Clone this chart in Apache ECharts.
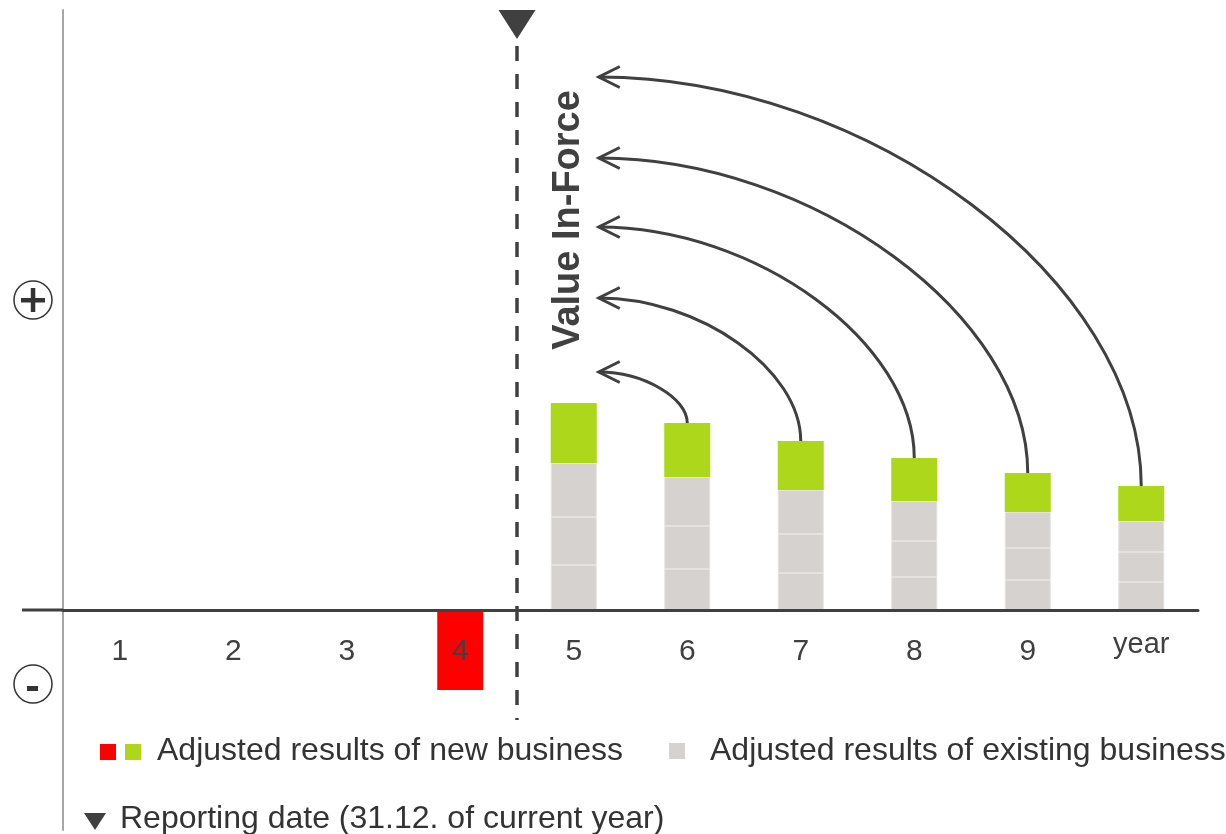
<!DOCTYPE html>
<html>
<head>
<meta charset="utf-8">
<script src="https://cdn.jsdelivr.net/npm/echarts@6/dist/echarts.min.js"></script>
<style>
  html, body { margin: 0; padding: 0; background: #ffffff; }
  #chart { width: 1226px; height: 834px; }
</style>
</head>
<body>
<div id="chart"></div>
<script>
// Periods on the horizontal axis
const categories = ['1', '2', '3', '4', '5', '6', '7', '8', '9', 'year'];

// Adjusted results of new business (negative = strain in the year of writing)
const newBusiness = [null, null, null, -80, 60, 54, 49, 43, 39, 35];

// Adjusted results of existing business, drawn as three stacked layers
const existingLayer1 = [null, null, null, null, 45, 41, 37, 33, 30, 28];
const existingLayer2 = [null, null, null, null, 48, 43, 39, 36, 32, 30];
const existingLayer3 = [null, null, null, null, 54, 49, 44, 40, 36, 31];

// Level each future result is discounted back to (Value In-Force)
const valueInForce = [null, null, null, null, null, 238, 312, 383, 452, 533];

// Reporting date sits between these two periods
const reportingBetween = [3, 4];

const FONT = '"Liberation Sans", Arial, Helvetica, sans-serif';
const DARK = '#404040';
const GREEN = '#add71b';
const RED = '#ff0000';
const GREY = '#d6d2cf';
const Y_MIN = -220, Y_MAX = 600;
const BAR_W = 46;
const GRID = { left: 63, right: 28, top: 10, bottom: 4 };
const CHART_H = 834;

// the category axis (line + labels) sits on the zero line of the value axis
const gridHeight = CHART_H - GRID.top - GRID.bottom;
const zeroOffset = -gridHeight * (0 - Y_MIN) / (Y_MAX - Y_MIN);

const chart = echarts.init(document.getElementById('chart'), null, { renderer: 'canvas' });

const greyStyle = { color: GREY, borderColor: '#e5e2df', borderWidth: 1 };

function layerSeries(name, values) {
  return {
    name: name,
    type: 'bar',
    stack: 'total',
    barWidth: BAR_W,
    itemStyle: greyStyle,
    data: values,
    silent: true
  };
}

const newBusinessData = newBusiness.map(v =>
  v == null ? null : { value: v, itemStyle: { color: v < 0 ? RED : GREEN } }
);

// total height of each column, where the Value In-Force arrows start
const columnTops = categories.map((c, i) =>
  (existingLayer1[i] || 0) + (existingLayer2[i] || 0) + (existingLayer3[i] || 0) + Math.max(newBusiness[i] || 0, 0)
);

const arrowData = [];
valueInForce.forEach((lvl, i) => {
  if (lvl != null) arrowData.push([i, columnTops[i], lvl]);
});

function renderArrow(params, api) {
  const idx = api.value(0);
  const start = api.coord([idx, api.value(1)]);
  const level = api.coord([idx, api.value(2)]);
  const firstFuture = api.coord([reportingBetween[1], 0]);
  const tipX = firstFuture[0] + BAR_W / 2 + 2;
  const x0 = start[0], y0 = start[1];
  const yT = level[1];
  const k = 0.5;
  const style = { stroke: DARK, lineWidth: 3, fill: null, lineCap: 'butt', lineJoin: 'miter' };
  return {
    type: 'group',
    children: [
      {
        type: 'bezierCurve',
        shape: {
          x1: x0, y1: y0,
          cpx1: x0, cpy1: y0 - k * (y0 - yT),
          cpx2: tipX + k * (x0 - tipX), cpy2: yT,
          x2: tipX, y2: yT
        },
        style: style
      },
      {
        type: 'polyline',
        shape: { points: [[tipX + 21, yT - 10.5], [tipX, yT], [tipX + 21, yT + 10.5]] },
        style: style
      }
    ]
  };
}

function renderReporting(params, api) {
  const a = api.coord([reportingBetween[0], 0]);
  const b = api.coord([reportingBetween[1], 0]);
  const x = (a[0] + b[0]) / 2;
  const top = api.coord([reportingBetween[0], Y_MAX])[1];
  const lineTop = api.coord([reportingBetween[0], 564])[1];
  const lineBottom = api.coord([reportingBetween[0], -110])[1];
  const zeroY = a[1];
  const gridLeft = params.coordSys.x;
  return {
    type: 'group',
    children: [
      {
        type: 'line',
        shape: { x1: x, y1: lineTop, x2: x, y2: lineBottom },
        style: { stroke: DARK, lineWidth: 3.5, lineDash: [15, 13] }
      },
      {
        type: 'polygon',
        shape: { points: [[x - 18.5, top], [x + 18.5, top], [x, top + 29]] },
        style: { fill: DARK }
      },
      {
        // axis line continues a little to the left of the vertical axis
        type: 'line',
        shape: { x1: gridLeft - 41, y1: zeroY, x2: gridLeft, y2: zeroY },
        style: { stroke: DARK, lineWidth: 3 }
      }
    ]
  };
}

const option = {
  backgroundColor: '#ffffff',
  animation: false,
  textStyle: { fontFamily: FONT },
  grid: Object.assign({ containLabel: false, outerBoundsMode: 'none' }, GRID),
  xAxis: {
    type: 'category',
    data: categories,
    position: 'bottom',
    offset: zeroOffset,
    z: 5,
    axisTick: { show: false },
    axisLine: { show: true, onZero: false, lineStyle: { color: DARK, width: 3 } },
    axisLabel: {
      interval: 0,
      hideOverlap: false,
      margin: 20,
      color: DARK,
      fontSize: 30,
      fontFamily: FONT,
      formatter: v => v === 'year' ? '{y|' + v + '}' : '{d|' + v + '}',
      rich: {
        d: { fontSize: 30, fontFamily: FONT, color: DARK, padding: [7, 0, 0, 0] },
        y: { fontSize: 29, fontFamily: FONT, color: DARK, padding: [0, 0, 0, 0] }
      }
    },
    splitLine: { show: false }
  },
  yAxis: {
    type: 'value',
    min: Y_MIN,
    max: Y_MAX,
    axisLine: { show: true, onZero: false, lineStyle: { color: '#a6a6a6', width: 2 } },
    axisTick: { show: false },
    axisLabel: { show: false },
    splitLine: { show: false }
  },
  series: [
    layerSeries('Adjusted results of existing business', existingLayer1),
    layerSeries('Adjusted results of existing business', existingLayer2),
    layerSeries('Adjusted results of existing business', existingLayer3),
    {
      name: 'Adjusted results of new business',
      type: 'bar',
      stack: 'total',
      barWidth: BAR_W,
      data: newBusinessData,
      silent: true
    },
    {
      name: 'Value In-Force',
      type: 'custom',
      renderItem: renderArrow,
      data: arrowData,
      encode: { x: 0, y: 1 },
      z: 4,
      silent: true
    },
    {
      name: 'Reporting date',
      type: 'custom',
      renderItem: renderReporting,
      data: [[reportingBetween[0], 0]],
      encode: { x: 0, y: 1 },
      z: 6,
      silent: true
    }
  ],
  graphic: [
    // plus / minus markers on the value axis
    { type: 'circle', shape: { cx: 33, cy: 300, r: 19 }, style: { fill: null, stroke: '#333333', lineWidth: 1.5 } },
    { type: 'rect', shape: { x: 21, y: 298, width: 24, height: 4.5 }, style: { fill: '#333333' } },
    { type: 'rect', shape: { x: 30.8, y: 288, width: 4.5, height: 24 }, style: { fill: '#333333' } },
    { type: 'circle', shape: { cx: 33, cy: 684, r: 19 }, style: { fill: null, stroke: '#333333', lineWidth: 1.5 } },
    { type: 'rect', shape: { x: 27, y: 686, width: 11, height: 5 }, style: { fill: '#333333' } },
    // vertical caption
    {
      type: 'text', x: 569, y: 220, rotation: Math.PI / 2,
      style: { text: 'Value In-Force', font: 'bold 38px ' + FONT, fill: DARK, align: 'center', verticalAlign: 'middle' }
    },
    // legend
    { type: 'rect', shape: { x: 100, y: 744, width: 16, height: 16 }, style: { fill: RED } },
    { type: 'rect', shape: { x: 125, y: 744, width: 16, height: 16 }, style: { fill: GREEN } },
    { type: 'text', x: 157, y: 751, style: { text: 'Adjusted results of new business', font: '32px ' + FONT, fill: '#333333', verticalAlign: 'middle' } },
    { type: 'rect', shape: { x: 669, y: 743, width: 16, height: 16 }, style: { fill: GREY } },
    { type: 'text', x: 710, y: 751, style: { text: 'Adjusted results of existing business', font: '32px ' + FONT, fill: '#333333', verticalAlign: 'middle' } },
    { type: 'polygon', shape: { points: [[84, 813], [106, 813], [95, 830]] }, style: { fill: DARK } },
    { type: 'text', x: 120, y: 819, style: { text: 'Reporting date (31.12. of current year)', font: '32px ' + FONT, fill: '#333333', verticalAlign: 'middle' } }
  ]
};

chart.setOption(option);
</script>
</body>
</html>
